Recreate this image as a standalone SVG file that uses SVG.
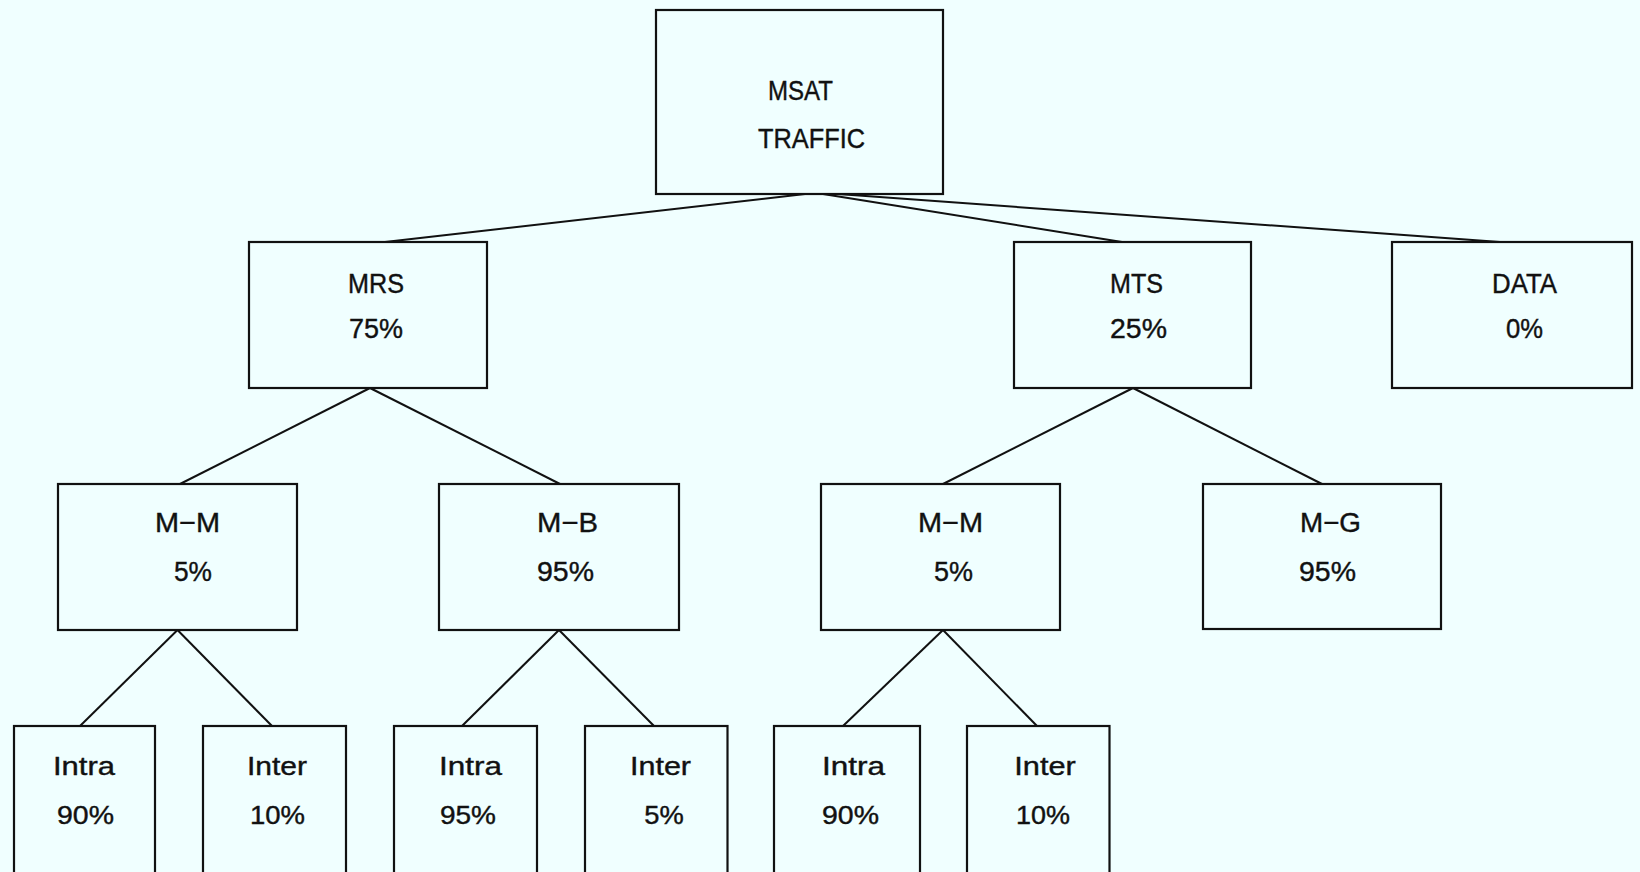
<svg xmlns="http://www.w3.org/2000/svg" width="1640" height="872" viewBox="0 0 1640 872">
<style>
.bg{fill:#F0FFFF}
.box{fill:none;stroke:#111;stroke-width:2.2}
.ln{stroke:#111;stroke-width:2;fill:none}
.t{font-family:"Liberation Sans",Arial,sans-serif;font-size:28px;fill:#111;stroke:#111;stroke-width:0.4;text-anchor:middle}
.b{font-family:"Liberation Sans",Arial,sans-serif;font-size:26px;fill:#111;stroke:#111;stroke-width:0.4;text-anchor:middle}
</style>
<rect class="bg" x="0" y="0" width="1640" height="872"/>
<g id="connectors">
<line class="ln" x1="805" y1="194" x2="385" y2="242"/>
<line class="ln" x1="823" y1="194" x2="1122" y2="242"/>
<line class="ln" x1="838" y1="194" x2="1500" y2="242"/>
<line class="ln" x1="370" y1="388" x2="180" y2="484"/>
<line class="ln" x1="370" y1="388" x2="560" y2="484"/>
<line class="ln" x1="1133" y1="388" x2="943" y2="484"/>
<line class="ln" x1="1133" y1="388" x2="1322" y2="484"/>
<line class="ln" x1="177.5" y1="630" x2="80" y2="726"/>
<line class="ln" x1="177.5" y1="630" x2="272" y2="726"/>
<line class="ln" x1="559" y1="630" x2="462" y2="726"/>
<line class="ln" x1="559" y1="630" x2="654" y2="726"/>
<line class="ln" x1="943" y1="630" x2="843" y2="726"/>
<line class="ln" x1="943" y1="630" x2="1037" y2="726"/>
</g>
<g id="msat">
<rect class="box" x="656" y="10" width="287" height="184"/>
<text class="t" x="800.5" y="100" textLength="65" lengthAdjust="spacingAndGlyphs">MSAT</text>
<text class="t" x="811.5" y="148" textLength="107" lengthAdjust="spacingAndGlyphs">TRAFFIC</text>
</g>
<g id="mrs">
<rect class="box" x="249" y="242" width="238" height="146"/>
<text class="t" x="376" y="293" textLength="56" lengthAdjust="spacingAndGlyphs">MRS</text>
<text class="t" x="376" y="338" textLength="54" lengthAdjust="spacingAndGlyphs">75%</text>
</g>
<g id="mts">
<rect class="box" x="1014" y="242" width="237" height="146"/>
<text class="t" x="1136.5" y="293" textLength="53" lengthAdjust="spacingAndGlyphs">MTS</text>
<text class="t" x="1138.5" y="338" textLength="57" lengthAdjust="spacingAndGlyphs">25%</text>
</g>
<g id="data">
<rect class="box" x="1392" y="242" width="240" height="146"/>
<text class="t" x="1524.5" y="293" textLength="65" lengthAdjust="spacingAndGlyphs">DATA</text>
<text class="t" x="1524.5" y="338" textLength="37" lengthAdjust="spacingAndGlyphs">0%</text>
</g>
<g id="mrs-mm">
<rect class="box" x="58" y="484" width="239" height="146"/>
<text class="t" x="187.5" y="532" textLength="65" lengthAdjust="spacingAndGlyphs">M−M</text>
<text class="t" x="193" y="581" textLength="38" lengthAdjust="spacingAndGlyphs">5%</text>
</g>
<g id="mrs-mb">
<rect class="box" x="439" y="484" width="240" height="146"/>
<text class="t" x="567.5" y="532" textLength="61" lengthAdjust="spacingAndGlyphs">M−B</text>
<text class="t" x="565.5" y="581" textLength="57" lengthAdjust="spacingAndGlyphs">95%</text>
</g>
<g id="mts-mm">
<rect class="box" x="821" y="484" width="239" height="146"/>
<text class="t" x="950.5" y="532" textLength="65" lengthAdjust="spacingAndGlyphs">M−M</text>
<text class="t" x="953.5" y="581" textLength="39" lengthAdjust="spacingAndGlyphs">5%</text>
</g>
<g id="mts-mg">
<rect class="box" x="1203" y="484" width="238" height="145"/>
<text class="t" x="1330.5" y="532" textLength="61" lengthAdjust="spacingAndGlyphs">M−G</text>
<text class="t" x="1327.5" y="581" textLength="57" lengthAdjust="spacingAndGlyphs">95%</text>
</g>
<g id="mm1-intra">
<rect class="box" x="14" y="726" width="141" height="160"/>
<text class="b" x="84" y="775" textLength="62" lengthAdjust="spacingAndGlyphs">Intra</text>
<text class="b" x="85.5" y="824" textLength="57" lengthAdjust="spacingAndGlyphs">90%</text>
</g>
<g id="mm1-inter">
<rect class="box" x="203" y="726" width="143" height="160"/>
<text class="b" x="277" y="775" textLength="60" lengthAdjust="spacingAndGlyphs">Inter</text>
<text class="b" x="277.5" y="824" textLength="55" lengthAdjust="spacingAndGlyphs">10%</text>
</g>
<g id="mb-intra">
<rect class="box" x="394" y="726" width="143" height="160"/>
<text class="b" x="470.5" y="775" textLength="63" lengthAdjust="spacingAndGlyphs">Intra</text>
<text class="b" x="468" y="824" textLength="56" lengthAdjust="spacingAndGlyphs">95%</text>
</g>
<g id="mb-inter">
<rect class="box" x="585" y="726" width="142.5" height="160"/>
<text class="b" x="660.5" y="775" textLength="61" lengthAdjust="spacingAndGlyphs">Inter</text>
<text class="b" x="664" y="824" textLength="39.5" lengthAdjust="spacingAndGlyphs">5%</text>
</g>
<g id="mm2-intra">
<rect class="box" x="774" y="726" width="146" height="160"/>
<text class="b" x="853.5" y="775" textLength="63" lengthAdjust="spacingAndGlyphs">Intra</text>
<text class="b" x="850.5" y="824" textLength="57" lengthAdjust="spacingAndGlyphs">90%</text>
</g>
<g id="mm2-inter">
<rect class="box" x="967" y="726" width="142.5" height="160"/>
<text class="b" x="1045" y="775" textLength="61.5" lengthAdjust="spacingAndGlyphs">Inter</text>
<text class="b" x="1043" y="824" textLength="54" lengthAdjust="spacingAndGlyphs">10%</text>
</g>
</svg>
